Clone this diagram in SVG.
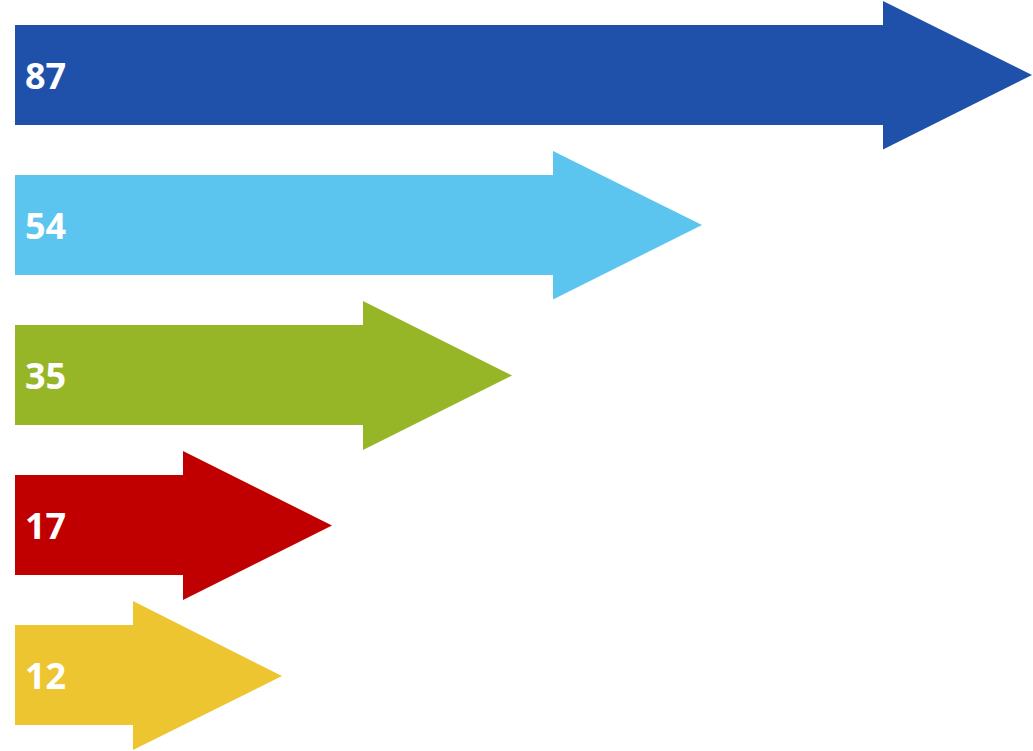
<svg xmlns="http://www.w3.org/2000/svg" width="1033" height="751" viewBox="0 0 1033 751">
<style>
.lbl{font-family:"Open Sans","Liberation Sans",sans-serif;font-weight:bold;font-size:36px;fill:#ffffff}
</style>
<rect width="1033" height="751" fill="#ffffff"/>
<g id="arrow87">
<polygon points="15,25 883,25 883,1 1032,75 883,149.5 883,125 15,125" fill="#1F51AB"/>
<text class="lbl" x="25" y="89">87</text>
</g>
<g id="arrow54">
<polygon points="15,175 553,175 553,151 702,225 553,299.5 553,275 15,275" fill="#5BC5EF"/>
<text class="lbl" x="25" y="239">54</text>
</g>
<g id="arrow35">
<polygon points="15,325 363,325 363,301 512,375.5 363,450 363,425 15,425" fill="#97B627"/>
<text class="lbl" x="25" y="389">35</text>
</g>
<g id="arrow17">
<polygon points="15,475 183,475 183,451 332,525.5 183,600 183,575 15,575" fill="#C00000"/>
<text class="lbl" x="25" y="539">17</text>
</g>
<g id="arrow12">
<polygon points="15,625 133,625 133,601 282,676 133,750 133,725 15,725" fill="#EDC531"/>
<text class="lbl" x="25" y="689">12</text>
</g>
<g id="connectors"></g>
</svg>
